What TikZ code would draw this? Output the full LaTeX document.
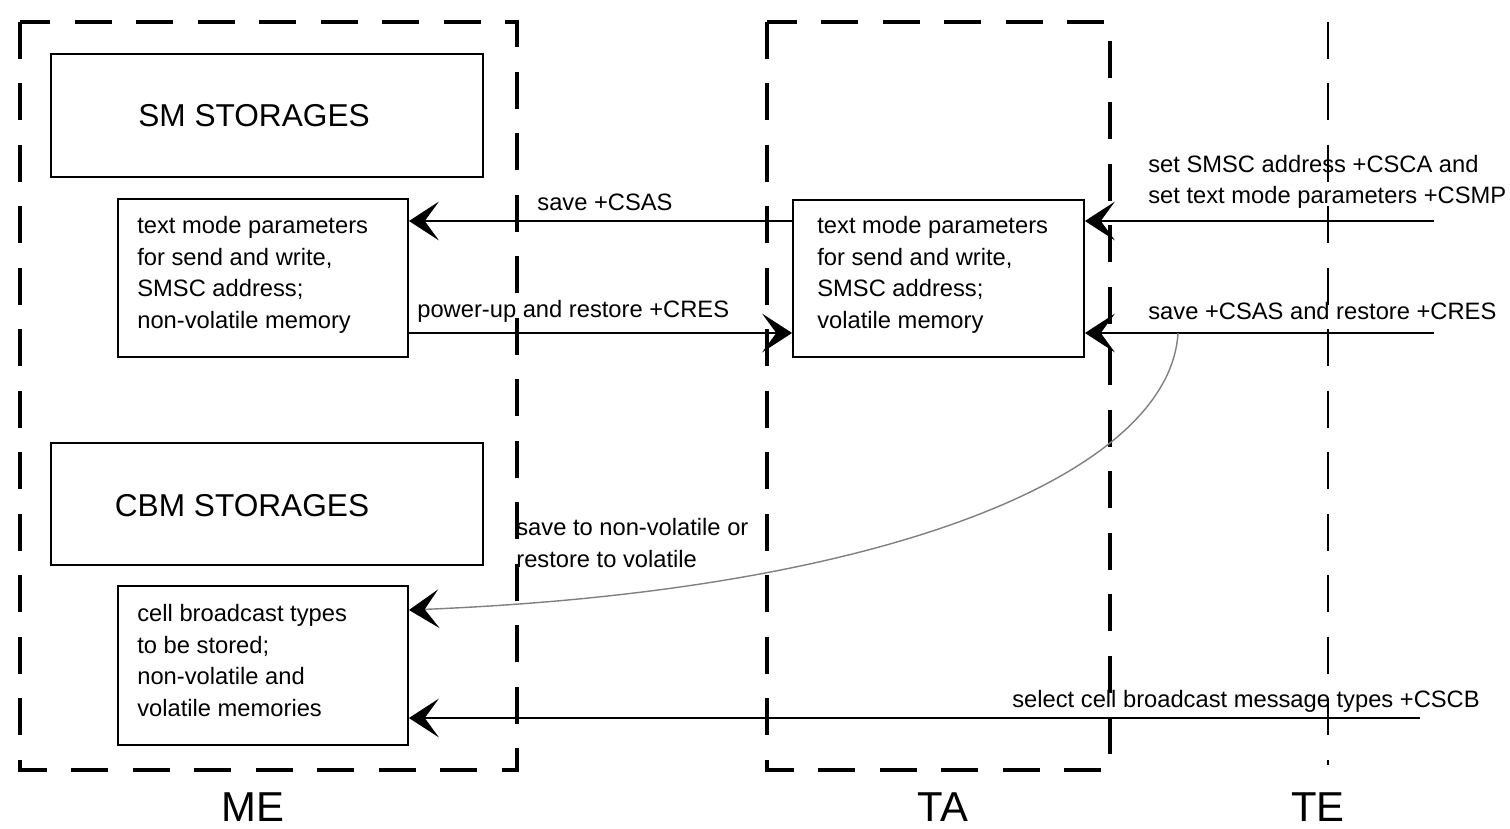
\documentclass[tikz,border=0pt]{standalone}
\usepackage{fontspec}
\setmainfont{Liberation Sans}
\usetikzlibrary{arrows.meta}
\tikzset{
  frame/.style={line width=1.9pt, dash pattern=on 21pt off 14pt},
  teline/.style={line width=1.2pt, dash pattern=on 21pt off 14pt},
  box/.style={draw, line width=1.1pt, rectangle, inner sep=0pt},
  big/.style={font=\fontsize{18}{22}\selectfont},
  huge/.style={font=\fontsize{23.8}{28}\selectfont},
  txt/.style={font=\fontsize{13.5}{18}\selectfont, align=left, inner sep=0pt},
  tip/.style={-{Stealth[length=17pt, width=22pt, inset=8pt, color=black]}},
  conn/.style={line width=1.1pt, tip},
}
\begin{document}
\begin{tikzpicture}[x=0.02cm, y=-0.02cm]
\useasboundingbox (0,0) rectangle (1510,828);
% frames
\draw[frame] (20,22) rectangle (517,770);
\draw[frame] (767,22) rectangle (1110,770);
\coordinate (tetop) at (1328,22);
\coordinate (tebot) at (1328,765);
\draw[teline] (tetop) -- (tebot);
% boxes
\node[box, minimum width=8.64cm, minimum height=2.46cm] (smst) at (267,115.5) {};
\node[big] (smstt) at (254,116) {SM STORAGES};
\node[box, minimum width=5.8cm, minimum height=3.16cm] (smp) at (263,278) {};
\node[txt, anchor=north west] (smpt) at (137,216) {text mode parameters\\for send and write,\\SMSC address;\\non-volatile memory};
\node[box, minimum width=8.64cm, minimum height=2.44cm] (cbst) at (267,504) {};
\node[big] (cbstt) at (242,506) {CBM STORAGES};
\node[box, minimum width=5.8cm, minimum height=3.18cm] (cbp) at (263,665.5) {};
\node[txt, anchor=north west] (cbpt) at (137,604) {cell broadcast types\\to be stored;\\non-volatile and\\volatile memories};
\node[box, minimum width=5.82cm, minimum height=3.14cm] (tap) at (938.5,278.5) {};
\node[txt, anchor=north west] (tapt) at (817,216) {text mode parameters\\for send and write,\\SMSC address;\\volatile memory};
% labels
\node[huge] (me) at (253,807) {ME};
\node[huge] (ta) at (943,807) {TA};
\node[huge] (te) at (1318,807) {TE};
% connectors
\coordinate (s1) at (1434,221);
\coordinate (s2) at (1434,333);
\coordinate (s3) at (1420,718);
\coordinate (cs) at (1178,333);
\draw[conn] (tap.west |- 0,221) -- (smp.east |- 0,221);
\draw[conn] (smp.east |- 0,333) -- (tap.west |- 0,333);
\draw[conn] (s1) -- (tap.east |- s1);
\draw[conn] (s2) -- (tap.east |- s2);
\draw[conn] (s3) -- (cbp.east |- s3);
\draw[gray, line width=0.8pt, tip] (cs) .. controls (1170,470) and (900,590) .. (cbp.east |- 0,610);
\node[txt] (l1) at (605,202) {save +CSAS};
\node[txt, anchor=west] (l2) at (417,311) {power-up and restore +CRES};
\node[txt, anchor=west] (l3) at (1148,182) {set SMSC address +CSCA and\\set text mode parameters +CSMP};
\node[txt, anchor=west] (l4) at (1148,311) {save +CSAS and restore +CRES};
\node[txt, anchor=west] (l5) at (1012,701) {select cell broadcast message types +CSCB};
\node[txt, anchor=west] (l6) at (516,543) {save to non-volatile or\\restore to volatile};
\end{tikzpicture}
\end{document}
